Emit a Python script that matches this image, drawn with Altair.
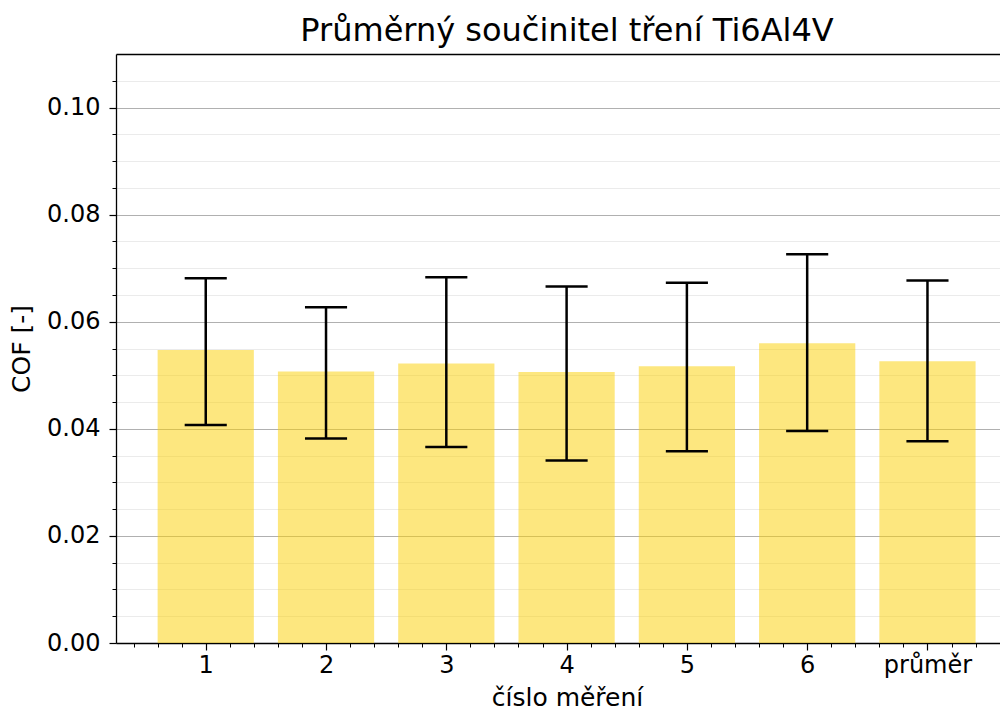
import json
import altair as alt
import pandas as pd

# ---- data ----
labels = ["1", "2", "3", "4", "5", "6", "průměr"]
cof_mean = [0.0547, 0.0507, 0.0522, 0.0506, 0.0517, 0.0560, 0.0526]
err_low = [0.0407, 0.0382, 0.0366, 0.0341, 0.0358, 0.0396, 0.0377]
err_high = [0.0681, 0.0627, 0.0683, 0.0666, 0.0673, 0.0726, 0.0677]

y_major = [0.0, 0.02, 0.04, 0.06, 0.08, 0.10]
y_minor = [0.005, 0.01, 0.015, 0.025, 0.03, 0.035, 0.045, 0.05, 0.055,
           0.065, 0.07, 0.075, 0.085, 0.09, 0.095, 0.105]
x_major = [1, 2, 3, 4, 5, 6, 7]
x_minor = [0.4, 0.6, 0.8, 1.2, 1.4, 1.6, 1.8, 2.2, 2.4, 2.6, 2.8, 3.2, 3.4,
           3.6, 3.8, 4.2, 4.4, 4.6, 4.8, 5.2, 5.4, 5.6, 5.8, 6.2, 6.4, 6.6,
           6.8, 7.2, 7.4, 7.6]

df = pd.DataFrame({
    "label": labels,
    "pos": list(range(1, len(labels) + 1)),
    "cof": cof_mean,
    "lo": err_low,
    "hi": err_high,
})

FONT = "DejaVu Sans"
xscale = alt.Scale(domain=[0.254, 7.603], nice=False, zero=False)
yscale = alt.Scale(domain=[0, 0.11], nice=False)
label_expr = json.dumps(labels, ensure_ascii=False) + "[datum.value - 1]"

base = alt.Chart(df)

# minor axes / grid (left and bottom spines drawn here as the axis domains)
minor = base.mark_point(opacity=0).encode(
    x=alt.X("pos:Q", scale=xscale,
            axis=alt.Axis(orient="bottom", values=x_minor, labels=False, title=None,
                          tickSize=4, tickColor="black", tickWidth=1,
                          domain=True, domainColor="black", domainWidth=1.3, grid=False)),
    y=alt.Y("cof:Q", scale=yscale,
            axis=alt.Axis(orient="left", values=y_minor, labels=False, title=None,
                          tickSize=4, tickColor="black", tickWidth=1,
                          domain=True, domainColor="black", domainWidth=1.3,
                          grid=True, gridColor="#ebebeb", gridWidth=1.2)),
)

# top spine
top = base.mark_point(opacity=0).encode(
    x=alt.X("pos:Q", scale=xscale,
            axis=alt.Axis(orient="top", labels=False, ticks=False, title=None,
                          domain=True, domainColor="black", domainWidth=1.3, grid=False)),
    y=alt.Y("cof:Q", scale=yscale, axis=None),
)

bars = base.mark_rect(color="#fcd000", opacity=0.5).transform_calculate(
    x1="datum.pos - 0.4", x2="datum.pos + 0.4"
).encode(
    x=alt.X("x1:Q", scale=xscale,
            axis=alt.Axis(orient="bottom", values=x_major, labelExpr=label_expr,
                          title="číslo měření", titleFontSize=25, titleFontWeight="normal",
                          titleColor="black", titlePadding=8, titleX=451,
                          labelFontSize=24, labelColor="black", labelPadding=3,
                          tickSize=7, tickColor="black", tickWidth=1.2,
                          domain=False, grid=False)),
    x2="x2:Q",
    y=alt.Y("cof:Q", scale=yscale,
            axis=alt.Axis(orient="left", values=y_major, format=".2f",
                          title="COF [-]", titleFontSize=25, titleFontWeight="normal",
                          titleColor="black", titlePadding=12,
                          labelFontSize=24, labelColor="black", labelPadding=9,
                          tickSize=7, tickColor="black", tickWidth=1.2,
                          domain=False, grid=True, gridColor="#b0b0b0", gridWidth=1.2)),
    y2=alt.value(589),
)

err = base.mark_rule(color="black", strokeWidth=2.5).encode(
    x=alt.X("pos:Q", scale=xscale, axis=None),
    y=alt.Y("lo:Q", scale=yscale, axis=None),
    y2="hi:Q",
)

caps_hi = base.mark_rule(color="black", strokeWidth=2.5).transform_calculate(
    c1="datum.pos - 0.175", c2="datum.pos + 0.175"
).encode(
    x=alt.X("c1:Q", scale=xscale, axis=None), x2="c2:Q",
    y=alt.Y("hi:Q", scale=yscale, axis=None),
)
caps_lo = base.mark_rule(color="black", strokeWidth=2.5).transform_calculate(
    c1="datum.pos - 0.175", c2="datum.pos + 0.175"
).encode(
    x=alt.X("c1:Q", scale=xscale, axis=None), x2="c2:Q",
    y=alt.Y("lo:Q", scale=yscale, axis=None),
)

chart = alt.layer(minor, top, bars, err, caps_hi, caps_lo).resolve_axis(
    x="independent", y="independent"
).properties(
    width=884,
    height=589,
    autosize=alt.AutoSizeParams(type="none"),
    padding={"left": 108, "top": 46, "right": 0, "bottom": 68},
    title=alt.TitleParams("Průměrný součinitel tření Ti6Al4V", fontSize=32,
                          fontWeight="normal", color="black", anchor="middle",
                          dx=9, offset=6, font=FONT),
).configure(font=FONT).configure_view(stroke=None)

chart.save("out.html", embed_options={"renderer": "svg", "actions": False})
